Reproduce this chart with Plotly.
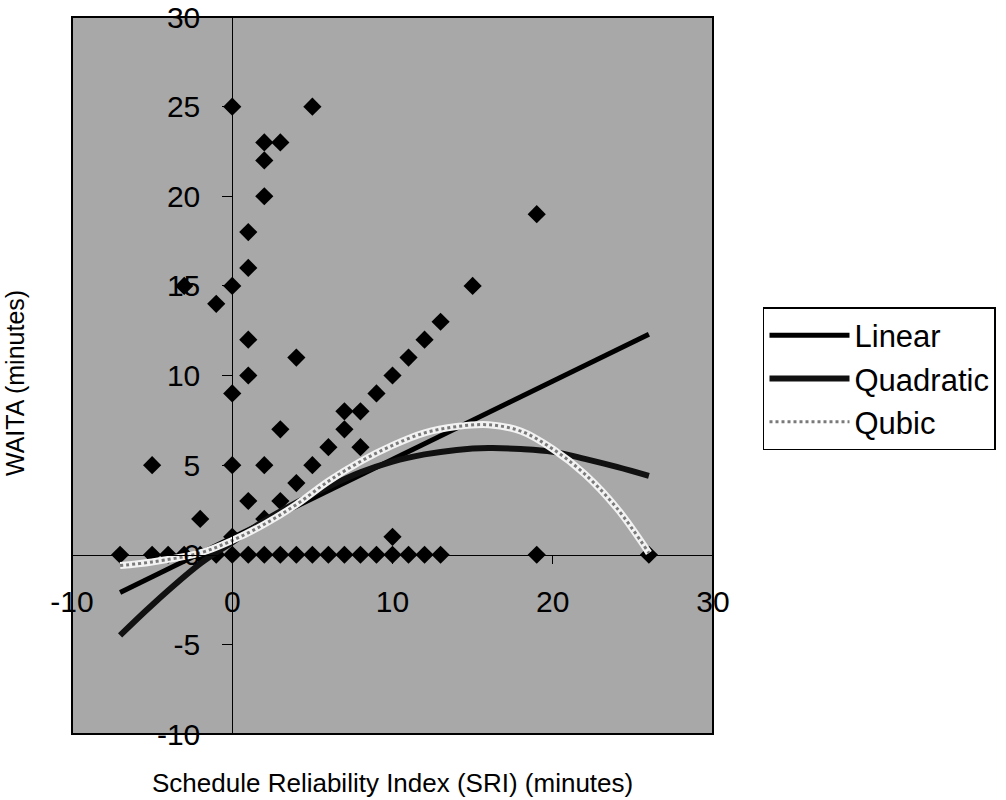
import plotly.graph_objects as go

# scatter data (SRI, WAITA)
sri = [-7, -5, -4, -3, -2, -1, 0, 1, 2, 3, 4, 5, 6, 7, 8, 9, 10, 11, 12, 13, 19, 26,
       -5, -3, -2, -1,
       0, 0, 0, 0, 0,
       1, 1, 1, 1, 1,
       2, 2, 2, 2, 2,
       3, 3, 3, 4, 4, 5, 5, 6, 7, 7, 8, 8, 9, 10, 10, 11, 12, 13, 15, 19]
waita = [0, 0, 0, 0, 0, 0, 0, 0, 0, 0, 0, 0, 0, 0, 0, 0, 0, 0, 0, 0, 0, 0,
         5, 15, 2, 14,
         25, 15, 9, 5, 1,
         18, 16, 12, 10, 3,
         23, 22, 20, 5, 2,
         23, 7, 3, 11, 4, 25, 5, 6, 8, 7, 8, 6, 9, 10, 1, 11, 12, 13, 15, 19]

# trend lines, points
lin_x = [-7, 26]
lin_y = [-2.1, 12.3]

trend_x = [-7, -5, -2, 0, 2, 4, 6, 8, 10, 12, 14, 16, 18, 20, 22, 24, 26]
quad_y = [-4.5, -2.8, -0.5, 0.7, 1.9, 2.9, 3.8, 4.6, 5.2, 5.6, 5.85, 5.95, 5.9, 5.75, 5.35, 4.9, 4.4]
cub_y = [-0.6, -0.4, 0.1, 0.8, 1.7, 2.8, 4.1, 5.2, 6.1, 6.8, 7.15, 7.25, 6.9, 5.9, 4.5, 2.6, 0.1]

x_ticks = [-10, 0, 10, 20, 30]
x_ticktext = ["-10", "0", "10", "20", "30"]
y_ticks = [-10, -5, 0, 5, 10, 15, 20, 25, 30]
y_ticktext = ["-10", "-5", "0", "5", "10", "15", "20", "25", "30"]

FONT = "Liberation Sans, Arial, sans-serif"

fig = go.Figure()

fig.add_trace(go.Scatter(
    x=sri, y=waita, mode="markers", showlegend=False,
    marker=dict(symbol="diamond", size=14, color="black", line=dict(width=0)),
))

fig.add_trace(go.Scatter(
    x=lin_x, y=lin_y, mode="lines", name="Linear",
    line=dict(color="black", width=5),
))
fig.add_trace(go.Scatter(
    x=trend_x, y=quad_y, mode="lines", name="Quadratic",
    line=dict(color="#111111", width=6, shape="spline"),
))
# light band of the cubic curve
fig.add_trace(go.Scatter(
    x=trend_x, y=cub_y, mode="lines", showlegend=False,
    line=dict(color="#f2f2f2", width=7, shape="spline"),
))
# dotted texture on top of it (this one carries the legend entry)
fig.add_trace(go.Scatter(
    x=trend_x, y=cub_y, mode="lines", name="Qubic",
    line=dict(color="#7a7a7a", width=3, shape="spline", dash="dot"),
))

axis_common = dict(
    showgrid=False, zeroline=False, showline=True, linecolor="black", linewidth=1,
    ticks="outside", tickcolor="black", tickwidth=1,
    tickfont=dict(family=FONT, size=30, color="black"),
    anchor="free", position=0.25, fixedrange=True, automargin=False,
    ticklabeloverflow="allow",
)

fig.update_layout(
    width=1006, height=800,
    margin=dict(l=72, r=293, t=17, b=66, autoexpand=False),
    paper_bgcolor="white",
    plot_bgcolor="#a8a8a8",
    font=dict(family=FONT, color="black"),
    xaxis=dict(range=[-10, 30], tickvals=x_ticks, ticktext=x_ticktext,
               ticklen=8, ticklabelstandoff=12, **axis_common),
    yaxis=dict(range=[-10, 30], tickvals=y_ticks, ticktext=y_ticktext,
               ticklen=10, ticklabelstandoff=16, **axis_common),
    legend=dict(
        x=1.078, y=0.5955, xanchor="left", yanchor="top",
        bgcolor="white", bordercolor="black", borderwidth=1.5,
        font=dict(family=FONT, size=31, color="black"),
        itemwidth=80,
    ),
    shapes=[dict(type="rect", xref="paper", yref="paper", x0=0, x1=1, y0=0, y1=1,
                 line=dict(color="black", width=2), layer="above")],
    annotations=[
        dict(text="WAITA (minutes)", x=-0.089, y=0.4895, xref="paper", yref="paper",
             xanchor="center", yanchor="middle",
             textangle=-90, showarrow=False, font=dict(family=FONT, size=25)),
        dict(text="Schedule Reliability Index (SRI) (minutes)", x=0.5, y=-0.068,
             xref="paper", yref="paper", xanchor="center", yanchor="middle",
             showarrow=False, font=dict(family=FONT, size=26)),
    ],
)

# drop the default page margin so the figure sits at the window's corner
fig.write_html("out.html", config={"displayModeBar": False},
               post_script="document.body.style.margin = '0';")
